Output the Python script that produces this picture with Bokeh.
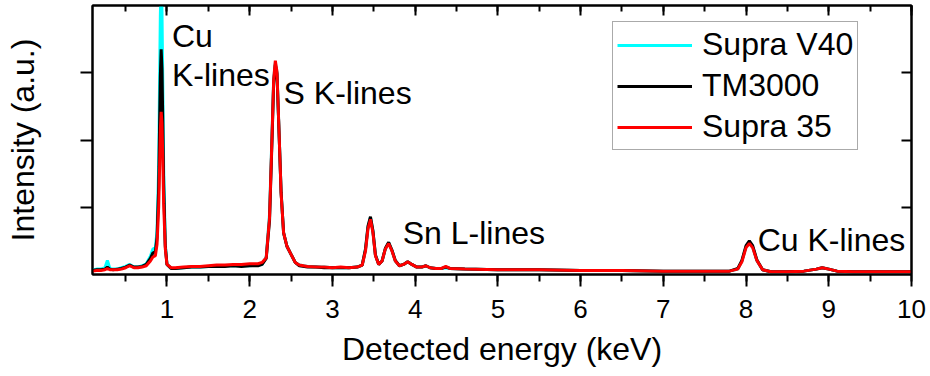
from bokeh.plotting import figure
from bokeh.models import (LinearAxis, SingleIntervalTicker, FixedTicker, Legend,
                          LegendItem, Range1d, CustomJSTickFormatter, ColumnDataSource)
from bokeh.embed import file_html
from bokeh.resources import INLINE
from bokeh.core.properties import value

FONT = "Liberation Sans"

# ---------------- data ----------------
energy_kev = [
    0.10, 0.15, 0.20, 0.25, 0.28, 0.31, 0.35, 0.40, 0.45, 0.50,
    0.55, 0.60, 0.65, 0.70, 0.75, 0.80, 0.83, 0.86, 0.88, 0.90,
    0.91, 0.92, 0.93, 0.94, 0.95, 0.96, 0.98, 1.00, 1.05, 1.10,
    1.20, 1.30, 1.40, 1.50, 1.60, 1.70, 1.80, 1.90, 2.00, 2.10,
    2.15, 2.20, 2.24, 2.27, 2.29, 2.31, 2.33, 2.35, 2.38, 2.41,
    2.45, 2.50, 2.55, 2.60, 2.70, 2.80, 2.90, 3.00, 3.10, 3.20,
    3.30, 3.36, 3.40, 3.43, 3.46, 3.49, 3.52, 3.56, 3.60, 3.64,
    3.68, 3.72, 3.76, 3.81, 3.86, 3.91, 3.96, 4.02, 4.08, 4.13,
    4.18, 4.25, 4.32, 4.37, 4.42, 4.60, 5.00, 5.50, 6.00, 6.50,
    7.00, 7.50, 7.80, 7.90, 7.95, 8.00, 8.04, 8.08, 8.13, 8.20,
    8.30, 8.50, 8.70, 8.85, 8.92, 9.00, 9.10, 9.30, 9.60, 10.00,
]

supra_v40 = [
    0.07, 0.08, 0.08, 0.10, 0.21, 0.09, 0.08, 0.08, 0.10, 0.12,
    0.15, 0.11, 0.11, 0.13, 0.16, 0.27, 0.38, 0.40, 0.65, 1.60,
    2.80, 3.85, 4.40, 3.90, 2.80, 1.60, 0.45, 0.15, 0.09, 0.09,
    0.10, 0.11, 0.11, 0.12, 0.12, 0.13, 0.13, 0.13, 0.13, 0.14,
    0.15, 0.26, 0.90, 2.10, 2.90, 3.15, 3.00, 2.30, 1.22, 0.62,
    0.42, 0.30, 0.18, 0.14, 0.12, 0.11, 0.11, 0.10, 0.10, 0.10,
    0.11, 0.14, 0.37, 0.70, 0.85, 0.64, 0.29, 0.15, 0.20, 0.38,
    0.47, 0.36, 0.20, 0.13, 0.15, 0.19, 0.15, 0.11, 0.11, 0.13,
    0.10, 0.09, 0.09, 0.10, 0.09, 0.08, 0.07, 0.07, 0.06, 0.06,
    0.05, 0.05, 0.05, 0.08, 0.20, 0.41, 0.47, 0.41, 0.21, 0.07,
    0.04, 0.04, 0.05, 0.08, 0.10, 0.08, 0.05, 0.04, 0.04, 0.04,
]

tm3000 = [
    0.06, 0.07, 0.07, 0.08, 0.11, 0.08, 0.07, 0.08, 0.09, 0.11,
    0.14, 0.11, 0.11, 0.12, 0.15, 0.24, 0.32, 0.34, 0.55, 1.30,
    2.15, 2.95, 3.35, 3.05, 2.25, 1.35, 0.42, 0.15, 0.09, 0.09,
    0.10, 0.11, 0.11, 0.12, 0.12, 0.12, 0.13, 0.12, 0.13, 0.13,
    0.15, 0.24, 0.80, 2.00, 2.85, 3.12, 2.98, 2.28, 1.22, 0.62,
    0.42, 0.30, 0.18, 0.13, 0.11, 0.11, 0.10, 0.10, 0.10, 0.10,
    0.11, 0.14, 0.38, 0.72, 0.86, 0.65, 0.29, 0.15, 0.20, 0.39,
    0.48, 0.36, 0.21, 0.13, 0.15, 0.19, 0.15, 0.11, 0.11, 0.13,
    0.10, 0.09, 0.09, 0.11, 0.09, 0.08, 0.07, 0.07, 0.06, 0.06,
    0.05, 0.05, 0.05, 0.09, 0.21, 0.43, 0.50, 0.43, 0.22, 0.07,
    0.04, 0.04, 0.05, 0.08, 0.10, 0.08, 0.05, 0.04, 0.04, 0.04,
]

supra_35 = [
    0.05, 0.06, 0.06, 0.07, 0.09, 0.07, 0.07, 0.07, 0.08, 0.10,
    0.13, 0.10, 0.10, 0.11, 0.13, 0.20, 0.26, 0.28, 0.45, 1.00,
    1.55, 2.15, 2.42, 2.25, 1.70, 1.05, 0.38, 0.15, 0.10, 0.10,
    0.11, 0.12, 0.12, 0.13, 0.14, 0.14, 0.15, 0.15, 0.16, 0.16,
    0.18, 0.25, 0.85, 2.05, 2.90, 3.18, 3.02, 2.30, 1.20, 0.62,
    0.42, 0.30, 0.18, 0.14, 0.12, 0.11, 0.11, 0.10, 0.11, 0.10,
    0.11, 0.14, 0.35, 0.68, 0.82, 0.62, 0.28, 0.15, 0.20, 0.38,
    0.46, 0.35, 0.20, 0.13, 0.15, 0.19, 0.15, 0.11, 0.11, 0.13,
    0.10, 0.09, 0.09, 0.12, 0.09, 0.08, 0.07, 0.07, 0.06, 0.06,
    0.05, 0.05, 0.05, 0.08, 0.19, 0.40, 0.46, 0.40, 0.21, 0.07,
    0.04, 0.04, 0.05, 0.08, 0.10, 0.08, 0.05, 0.04, 0.04, 0.04,
]

series_names = ["Supra V40", "TM3000", "Supra 35"]
series_colors = ["#00FFFF", "#000000", "#FF0000"]

ann_text = ["Cu", "K-lines", "S K-lines", "Sn L-lines", "Cu K-lines"]
ann_x = [1.06, 1.06, 2.41, 3.85, 8.14]
ann_y = [3.54, 2.96, 2.70, 0.62, 0.52]

y_ticks = [1, 2, 3]
y_title = "Intensity (a.u.)"
x_title = "Detected energy (keV)"

# ---------------- figure ----------------
p = figure(width=930, height=376, output_backend="svg", toolbar_location=None,
           x_range=Range1d(0.1, 10), y_range=Range1d(0, 4),
           min_border_left=92, min_border_right=19, min_border_top=5,
           min_border_bottom=102, x_axis_location=None, y_axis_location=None,
           background_fill_color="white", border_fill_color="white")
p.xgrid.visible = False
p.ygrid.visible = False
p.outline_line_color = "black"
p.outline_line_width = 2

blank = CustomJSTickFormatter(code="return ''")


def style_axis(ax):
    ax.axis_line_color = "black"
    ax.axis_line_width = 2
    ax.major_tick_line_color = "black"
    ax.major_tick_line_width = 2
    ax.minor_tick_line_color = "black"
    ax.minor_tick_line_width = 2
    ax.major_label_text_font = FONT
    ax.major_label_text_font_size = "26px"
    ax.major_label_text_color = "black"
    ax.axis_label_text_font = FONT
    ax.axis_label_text_font_size = "32px"
    ax.axis_label_text_font_style = "normal"
    ax.axis_label_text_color = "black"


# bottom axis
xb = LinearAxis(ticker=SingleIntervalTicker(interval=1, num_minor_ticks=2),
                axis_label=x_title)
style_axis(xb)
xb.major_tick_out = 12
xb.major_tick_in = 0
xb.minor_tick_out = 7
xb.minor_tick_in = 0
xb.major_label_standoff = 13
xb.axis_label_standoff = 10
p.add_layout(xb, "below")

# top axis (ticks inward, no labels)
xt = LinearAxis(ticker=SingleIntervalTicker(interval=1, num_minor_ticks=2),
                formatter=blank)
style_axis(xt)
xt.major_tick_out = 0
xt.major_tick_in = 10
xt.minor_tick_out = 0
xt.minor_tick_in = 6
xt.major_label_standoff = 0
p.add_layout(xt, "above")

# left axis with title
yl = LinearAxis(ticker=FixedTicker(ticks=y_ticks), formatter=blank,
                axis_label=y_title)
style_axis(yl)
yl.major_tick_out = 12
yl.major_tick_in = 0
yl.major_label_standoff = 0
yl.axis_label_standoff = 40
p.add_layout(yl, "left")

# right axis
yr = LinearAxis(ticker=FixedTicker(ticks=y_ticks), formatter=blank)
style_axis(yr)
yr.major_tick_out = 0
yr.major_tick_in = 10
yr.major_label_standoff = 0
p.add_layout(yr, "right")

# spectra
src = ColumnDataSource(dict(e=energy_kev, v40=supra_v40, tm=tm3000, s35=supra_35))
renderers = []
for col, name, color in zip(["v40", "tm", "s35"], series_names, series_colors):
    r = p.line("e", col, source=src, line_color=color, line_width=3)
    renderers.append(r)

# annotations
p.text(x=ann_x, y=ann_y, text=ann_text, text_font=value(FONT),
       text_font_size="32px", text_color="black",
       text_align="left", text_baseline="middle")

legend = Legend(items=[LegendItem(label=n, renderers=[r])
                       for n, r in zip(series_names, renderers)],
                location=(520, 124))
legend.label_text_font = FONT
legend.label_text_font_size = "32px"
legend.label_text_color = "black"
legend.glyph_width = 75
legend.glyph_height = 20
legend.label_standoff = 10
legend.padding = 4
legend.spacing = 4
legend.margin = 0
legend.border_line_color = "#555555"
legend.border_line_width = 1.5
legend.background_fill_color = "white"
legend.background_fill_alpha = 1
p.add_layout(legend, "center")

open("out.html", "w").write(file_html(p, INLINE))
